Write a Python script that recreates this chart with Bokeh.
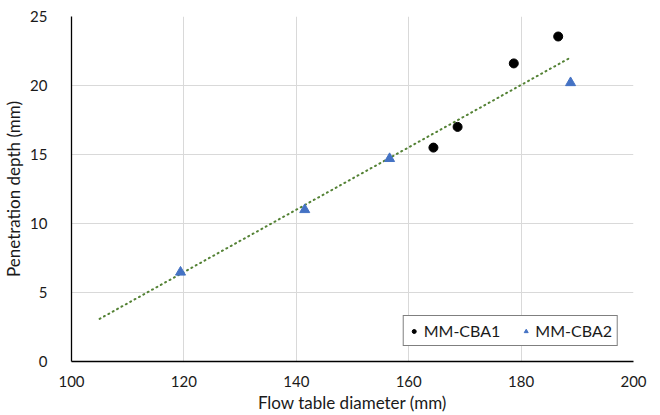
from bokeh.plotting import figure
from bokeh.models import Range1d, FixedTicker, Legend, LegendItem
from bokeh.embed import file_html
from bokeh.resources import INLINE

# Data
cba1_x = [164.4, 168.7, 178.7, 186.6]
cba1_y = [15.5, 17.0, 21.6, 23.55]
cba2_x = [119.4, 141.5, 156.6, 188.8]
cba2_y = [6.47, 11.0, 14.7, 20.2]
trend_x_range = [105.0, 188.5]
trend_slope = 0.226
trend_intercept = -20.64
x_ticks = [100, 120, 140, 160, 180, 200]
y_ticks = [0, 5, 10, 15, 20, 25]

FONT = "Lato"
TXT = "#1a1a1a"

p = figure(width=660, height=415, output_backend="svg", toolbar_location=None,
           x_range=Range1d(100, 200), y_range=Range1d(0, 25),
           min_border_left=71, min_border_right=27, min_border_top=16, min_border_bottom=54)
p.outline_line_color = None

for ax in (p.xaxis[0], p.yaxis[0]):
    ax.major_tick_line_color = None
    ax.minor_tick_line_color = None
    ax.axis_line_color = "#000000"
    ax.axis_line_width = 1.3
    ax.major_label_text_font = FONT
    ax.major_label_text_font_size = "15px"
    ax.major_label_text_color = TXT
    ax.axis_label_text_font = FONT
    ax.axis_label_text_font_size = "17px"
    ax.axis_label_text_font_style = "normal"
    ax.axis_label_text_color = TXT

p.xaxis.ticker = FixedTicker(ticks=x_ticks)
p.yaxis.ticker = FixedTicker(ticks=y_ticks)
p.xaxis.axis_label = "Flow table diameter (mm)"
p.yaxis.axis_label = "Penetration depth (mm)"
p.xaxis.major_label_standoff = 8
p.yaxis.major_label_standoff = 18
p.xaxis.axis_label_standoff = 2
p.yaxis.axis_label_standoff = 3

p.xgrid.ticker = FixedTicker(ticks=x_ticks)
p.ygrid.ticker = FixedTicker(ticks=y_ticks)
p.grid.grid_line_color = "#d9d9d9"
p.grid.grid_line_width = 1

tx = trend_x_range
ty = [trend_slope * v + trend_intercept for v in tx]
p.line(tx, ty, line_color="#548235", line_width=2, line_dash="1 4", line_cap="round")

r1 = p.scatter(cba1_x, cba1_y, marker="circle", size=9, fill_color="#000000", line_color="#000000")
r2 = p.scatter(cba2_x, cba2_y, marker="triangle", size=10, fill_color="#4472C4", line_color="#4472C4")

legend = Legend(items=[LegendItem(label="MM-CBA1", renderers=[r1]),
                       LegendItem(label="MM-CBA2", renderers=[r2])],
                orientation="horizontal", location="bottom_right")
legend.label_text_font = FONT
legend.label_text_font_size = "16px"
legend.label_text_color = TXT
legend.border_line_color = "#000000"
legend.border_line_width = 1
legend.glyph_width = 10
legend.glyph_height = 10
legend.label_standoff = 5
legend.label_height = 17
legend.spacing = 20
legend.padding = 5
legend.margin = 15
legend.background_fill_alpha = 1
p.add_layout(legend)

open("out.html", "w").write(file_html(p, INLINE))
